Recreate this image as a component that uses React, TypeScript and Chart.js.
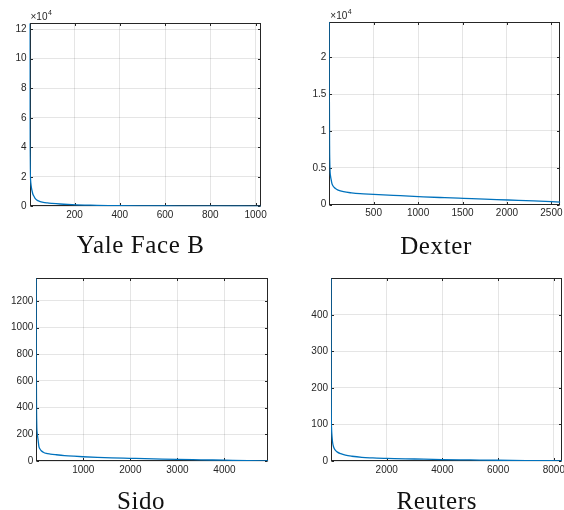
import React, { useEffect, useRef } from "react";
import { Chart, registerables } from "chart.js";

Chart.register(...registerables);

// ---------- data ----------
const yaleX = [1, 2, 3, 4, 5, 7, 10, 13, 16, 20, 25, 33, 45, 62, 80, 100, 136, 170, 209, 260, 300, 350, 400, 500, 600, 700, 800, 900, 1024];
const yaleY = [124000, 52000, 34000, 25000, 20000, 15500, 12200, 10000, 8200, 7000, 5600, 4300, 3400, 2700, 2300, 2000, 1560, 1250, 1000, 800, 650, 520, 420, 300, 200, 140, 90, 50, 10];
const yaleXTicks = [200, 400, 600, 800, 1000];
const yaleYTicks = [0, 20000, 40000, 60000, 80000, 100000, 120000];

const dexterX = [1, 2, 4, 6, 8, 10, 13, 19, 30, 45, 67, 100, 161, 250, 347, 500, 721, 900, 1057, 1300, 1512, 1750, 2016, 2300, 2600];
const dexterY = [24800, 14000, 8000, 6000, 5000, 4400, 4000, 3575, 2900, 2500, 2220, 1980, 1760, 1600, 1490, 1408, 1270, 1150, 1060, 950, 860, 760, 640, 520, 350];
const dexterXTicks = [500, 1000, 1500, 2000, 2500];
const dexterYTicks = [0, 5000, 10000, 15000, 20000];

const sidoX = [1, 2, 3, 5, 8, 12, 20, 30, 45, 57, 80, 106, 150, 213, 300, 426, 600, 800, 994, 1300, 1600, 1987, 2500, 3000, 3500, 4000, 4500, 4932];
const sidoY = [1370, 800, 600, 420, 320, 250, 205, 182, 140, 107, 90, 77, 66, 57, 52, 47, 41, 36, 32, 27, 23, 20, 16, 12, 9, 6, 3, 1];
const sidoXTicks = [1000, 2000, 3000, 4000];
const sidoYTicks = [0, 200, 400, 600, 800, 1000, 1200];

const reutersX = [1, 2, 3, 5, 8, 12, 20, 30, 43, 60, 92, 140, 221, 350, 519, 750, 1110, 1500, 2000, 3000, 4000, 5000, 6000, 7000, 8293];
const reutersY = [500, 320, 240, 180, 140, 110, 90, 75, 62, 50, 39, 31, 25, 20, 16, 13, 10, 8.5, 7, 5.5, 4, 3, 2, 1.2, 0.5];
const reutersXTicks = [2000, 4000, 6000, 8000];
const reutersYTicks = [0, 100, 200, 300, 400];

const titles = ["Yale Face B", "Dexter", "Sido", "Reuters"];

// ---------- styling ----------
const AXIS = "#262626";
const GRID = "rgba(38,38,38,0.12)";
const LINE = "#0072BD";
const TICK_FONT = { family: "'Liberation Sans', Arial, Helvetica, sans-serif", size: 10 };

const framePlugin = {
  id: "frame",
  beforeDatasetsDraw(chart: any) {
    const { ctx, chartArea } = chart;
    const l = Math.round(chartArea.left) + 0.5;
    const r = Math.round(chartArea.right) - 0.5;
    const t = Math.round(chartArea.top) + 0.5;
    const b = Math.round(chartArea.bottom) - 0.5;
    ctx.save();
    ctx.strokeStyle = AXIS;
    ctx.lineWidth = 1;
    ctx.strokeRect(l, t, r - l, b - t);
    const tl = 2.5;
    ctx.beginPath();
    const xs = chart.scales.x;
    xs.ticks.forEach((tk: any) => {
      const p = Math.round(xs.getPixelForValue(tk.value)) + 0.5;
      ctx.moveTo(p, b); ctx.lineTo(p, b - tl);
      ctx.moveTo(p, t); ctx.lineTo(p, t + tl);
    });
    const ys = chart.scales.y;
    ys.ticks.forEach((tk: any) => {
      const p = Math.round(ys.getPixelForValue(tk.value)) + 0.5;
      ctx.moveTo(l, p); ctx.lineTo(l + tl, p);
      ctx.moveTo(r, p); ctx.lineTo(r - tl, p);
    });
    ctx.stroke();
    ctx.restore();
  },
  afterDraw(chart: any, _args: any, opts: any) {
    if (!opts || !opts.exponent) return;
    const { ctx, chartArea } = chart;
    ctx.save();
    ctx.fillStyle = AXIS;
    ctx.textBaseline = "alphabetic";
    ctx.textAlign = "left";
    ctx.font = "10px 'Liberation Sans', Arial, sans-serif";
    const base = "\u00d710";
    ctx.fillText(base, chartArea.left + 1, chartArea.top - 3);
    const w = ctx.measureText(base).width;
    ctx.font = "7px 'Liberation Sans', Arial, sans-serif";
    ctx.fillText(opts.exponent, chartArea.left + 1 + w + 0.5, chartArea.top - 8);
    ctx.restore();
  },
};

type PlotDef = {
  xs: number[]; ys: number[]; xTicks: number[]; yTicks: number[];
  xMax: number; yMax: number; yDiv: number; exponent?: string;
  canvasLeft: number; canvasTop: number;
  areaLeft: number; areaTop: number; areaRight: number; areaBottom: number;
};

const W = 282, H = 255;

const plots: PlotDef[] = [
  { xs: yaleX, ys: yaleY, xTicks: yaleXTicks, yTicks: yaleYTicks, xMax: 1024, yMax: 124000, yDiv: 10000, exponent: "4",
    canvasLeft: 0, canvasTop: 0, areaLeft: 29.5, areaTop: 23.3, areaRight: 261, areaBottom: 206.3 },
  { xs: dexterX, ys: dexterY, xTicks: dexterXTicks, yTicks: dexterYTicks, xMax: 2600, yMax: 24800, yDiv: 10000, exponent: "4",
    canvasLeft: 282, canvasTop: 0, areaLeft: 47.3, areaTop: 21.7, areaRight: 278.3, areaBottom: 204.7 },
  { xs: sidoX, ys: sidoY, xTicks: sidoXTicks, yTicks: sidoYTicks, xMax: 4932, yMax: 1370, yDiv: 1,
    canvasLeft: 0, canvasTop: 255, areaLeft: 36.3, areaTop: 23.3, areaRight: 268.3, areaBottom: 206 },
  { xs: reutersX, ys: reutersY, xTicks: reutersXTicks, yTicks: reutersYTicks, xMax: 8293, yMax: 500, yDiv: 1,
    canvasLeft: 282, canvasTop: 255, areaLeft: 49, areaTop: 23.3, areaRight: 280, areaBottom: 206 },
];

const titlePos = [
  { cx: 140.7, baseline: 253.3 },
  { cx: 436, baseline: 253.8 },
  { cx: 141, baseline: 508.5 },
  { cx: 436.7, baseline: 508.5 },
];

function SubPlot({ def }: { def: PlotDef }) {
  const ref = useRef<HTMLCanvasElement>(null);
  useEffect(() => {
    const canvas = ref.current!;
    const data = def.xs.map((x, i) => ({ x, y: def.ys[i] }));
    const chart = new Chart(canvas, {
      type: "line",
      data: {
        datasets: [{
          data,
          borderColor: LINE,
          borderWidth: 1.3,
          pointRadius: 0,
          tension: 0.3,
          cubicInterpolationMode: "monotone",
          fill: false,
        }],
      },
      options: {
        animation: false,
        responsive: false,
        devicePixelRatio: 1,
        parsing: false,
        layout: {
          padding: { left: 0, top: def.areaTop, right: W - def.areaRight, bottom: 0 },
        },
        plugins: {
          legend: { display: false },
          tooltip: { enabled: false },
          frame: { exponent: def.exponent },
        } as any,
        scales: {
          x: {
            type: "linear",
            min: 1,
            max: def.xMax,
            border: { display: false },
            grid: { color: GRID, drawTicks: false, lineWidth: 1 },
            ticks: {
              color: AXIS, font: TICK_FONT, padding: 3, autoSkip: false, maxRotation: 0,
              callback: (v: any) => String(v),
            },
            afterBuildTicks: (s: any) => { s.ticks = def.xTicks.map((v) => ({ value: v })); },
            afterFit: (s: any) => {
              s.height = H - def.areaBottom;
              s.paddingLeft = 0; s.paddingRight = 0;
            },
          },
          y: {
            type: "linear",
            min: 0,
            max: def.yMax,
            border: { display: false },
            grid: { color: GRID, drawTicks: false, lineWidth: 1 },
            ticks: {
              color: AXIS, font: TICK_FONT, padding: 3, autoSkip: false,
              callback: (v: any) => String(Math.round((v / def.yDiv) * 100) / 100),
            },
            afterBuildTicks: (s: any) => { s.ticks = def.yTicks.map((v) => ({ value: v })); },
            afterFit: (s: any) => {
              s.width = def.areaLeft;
              s.paddingTop = 0; s.paddingBottom = 0;
            },
          },
        },
      },
      plugins: [framePlugin],
    } as any);
    return () => chart.destroy();
  }, [def]);
  return (
    <canvas
      ref={ref}
      width={W}
      height={H}
      style={{ position: "absolute", left: def.canvasLeft, top: def.canvasTop, width: W, height: H }}
    />
  );
}

export default function App() {
  return (
    <div style={{ position: "absolute", left: 0, top: 0, width: 564, height: 510, overflow: "hidden", background: "#fff" }}>
      {plots.map((p, i) => <SubPlot key={i} def={p} />)}
      {titles.map((t, i) => (
        <div
          key={t}
          style={{
            position: "absolute",
            left: titlePos[i].cx - 100,
            width: 200,
            textAlign: "center",
            top: titlePos[i].baseline - 21,
            fontFamily: "'Liberation Serif', 'Times New Roman', serif",
            fontSize: 25,
            lineHeight: "25px",
            letterSpacing: "0.6px",
            color: "#111",
            whiteSpace: "nowrap",
          }}
        >
          {t}
        </div>
      ))}
    </div>
  );
}
